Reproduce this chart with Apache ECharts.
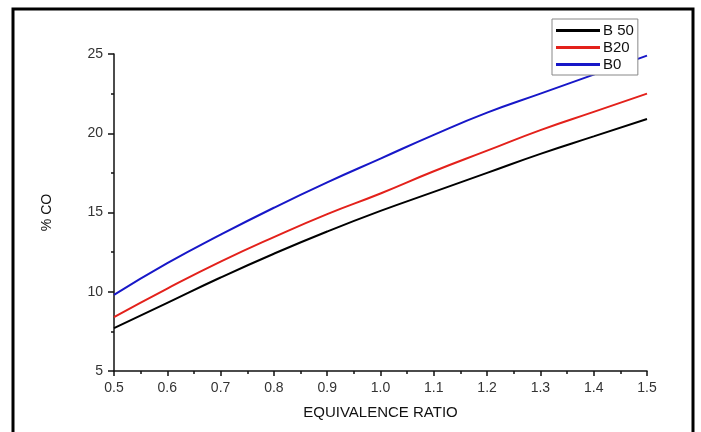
<!DOCTYPE html>
<html>
<head>
<meta charset="utf-8">
<script src="https://cdn.jsdelivr.net/npm/echarts@6/dist/echarts.min.js"></script>
<style>
html,body{margin:0;padding:0;background:#fff;}
#c{width:701px;height:432px;}
</style>
</head>
<body>
<div id="c"></div>
<script>
const phi = [0.5, 0.6, 0.7, 0.8, 0.9, 1.0, 1.1, 1.2, 1.3, 1.4, 1.5];
const b50 = [7.7, 9.3, 10.9, 12.4, 13.8, 15.1, 16.3, 17.5, 18.7, 19.8, 20.9];
const b20 = [8.4, 10.2, 11.9, 13.45, 14.9, 16.2, 17.6, 18.9, 20.2, 21.35, 22.5];
const b0 = [9.8, 11.8, 13.6, 15.3, 16.9, 18.4, 19.9, 21.3, 22.5, 23.7, 24.9];
const seriesNames = ['B 50', 'B20', 'B0'];
const yTicks = [5, 10, 15, 20, 25];

const pairs = arr => phi.map((x, i) => [x, arr[i]]);
const colors = ['#000000', '#e3211b', '#1717c8'];
const chart = echarts.init(document.getElementById('c'));
const font = 'Liberation Sans, Arial, sans-serif';
chart.setOption({
  animation: false,
  backgroundColor: '#fff',
  graphic: [{
    type: 'rect',
    shape: {x: 13, y: 9, width: 680, height: 440},
    style: {fill: 'none', stroke: '#000', lineWidth: 3},
    z: 100
  }],
  grid: {left: 114, right: 54, top: 54, bottom: 61},
  legend: {
    data: seriesNames,
    orient: 'vertical',
    left: 552, top: 19,
    itemWidth: 44, itemHeight: 3,
    itemGap: 2,
    icon: 'rect',
    backgroundColor: '#fff',
    borderColor: '#888',
    borderWidth: 1,
    padding: [4, 4, 3, 4],
    textStyle: {fontFamily: font, fontSize: 15, color: '#111', padding: [0, 0, 0, -2]},
    z: 10
  },
  xAxis: {
    type: 'value', min: 0.5, max: 1.5, interval: 0.1,
    name: 'EQUIVALENCE RATIO', nameLocation: 'middle', nameGap: 34,
    nameTextStyle: {fontFamily: font, fontSize: 15, color: '#111'},
    axisLine: {lineStyle: {color: '#111', width: 1.5}},
    axisTick: {length: 5, lineStyle: {color: '#111', width: 1.5}},
    minorTick: {show: true, splitNumber: 2, length: 3, lineStyle: {color: '#111', width: 1.5}},
    splitLine: {show: false},
    axisLabel: {fontFamily: font, fontSize: 14, color: '#333', margin: 10, formatter: v => v.toFixed(1)}
  },
  yAxis: {
    type: 'value', min: yTicks[0], max: yTicks[yTicks.length - 1], interval: 5,
    name: '% CO', nameLocation: 'middle', nameGap: 60, nameRotate: 90,
    nameTextStyle: {fontFamily: font, fontSize: 14, color: '#111'},
    axisLine: {show: true, lineStyle: {color: '#111', width: 1.5}},
    axisTick: {show: true, length: 6, lineStyle: {color: '#111', width: 1.5}},
    minorTick: {show: true, splitNumber: 2, length: 3, lineStyle: {color: '#111', width: 1.5}},
    splitLine: {show: false},
    axisLabel: {fontFamily: font, fontSize: 14, color: '#333', margin: 11}
  },
  series: [
    {name: seriesNames[0], type: 'line', data: pairs(b50), smooth: true, showSymbol: false, symbol: 'none', lineStyle: {width: 2, color: colors[0]}, itemStyle: {color: colors[0]}},
    {name: seriesNames[1], type: 'line', data: pairs(b20), smooth: true, showSymbol: false, symbol: 'none', lineStyle: {width: 2, color: colors[1]}, itemStyle: {color: colors[1]}},
    {name: seriesNames[2], type: 'line', data: pairs(b0), smooth: true, showSymbol: false, symbol: 'none', lineStyle: {width: 2, color: colors[2]}, itemStyle: {color: colors[2]}}
  ]
});
</script>
</body>
</html>
